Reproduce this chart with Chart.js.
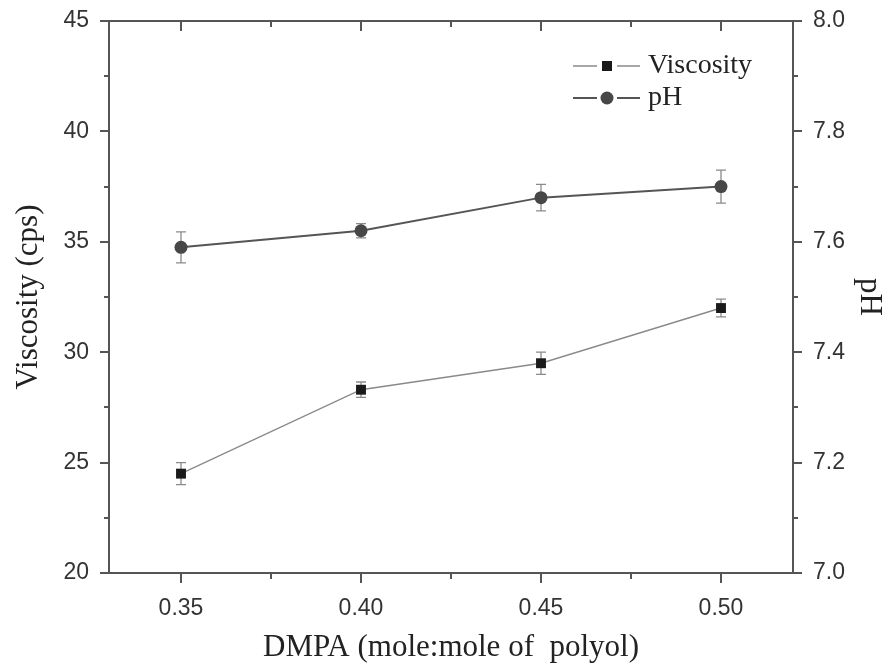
<!DOCTYPE html>
<html>
<head>
<meta charset="utf-8">
<script src="https://cdn.jsdelivr.net/npm/chart.js@4"></script>
<style>
  body { margin: 0; background: #fff; }
  .wrap { width: 894px; height: 669px; }
</style>
</head>
<body>
<div class="wrap"><canvas id="chart"></canvas></div>
<script>
const dmpa = [0.35, 0.40, 0.45, 0.50];
const viscosity = [24.5, 28.3, 29.5, 32.0];
const viscosityErr = [0.5, 0.35, 0.5, 0.4];
const ph = [7.59, 7.62, 7.68, 7.70];
const phErr = [0.028, 0.013, 0.024, 0.03];

const xTicks = [0.35, 0.40, 0.45, 0.50];
const xMinorTicks = [0.375, 0.425, 0.475];
const viscTicks = [20, 25, 30, 35, 40, 45];
const viscMinorTicks = [22.5, 27.5, 32.5, 37.5, 42.5];
const phTicks = [7.0, 7.2, 7.4, 7.6, 7.8, 8.0];
const phMinorTicks = [7.1, 7.3, 7.5, 7.7, 7.9];

const axisColor = "#555";
const tickFont = { family: "Liberation Sans", size: 23 };
const titleFont = { family: "Liberation Serif", size: 31 };

function setTicks(values) {
  return (scale) => {
    scale.ticks = values.map((v) => ({ value: v }));
  };
}

// keep the label overflow from pushing the plot area around
function fixWidth(w) {
  return (s) => {
    s.width = w;
    s.paddingTop = 0;
    s.paddingBottom = 0;
  };
}

// frame, tick marks and error bars, all placed through the chart scales
const axesAndErrors = {
  id: "axesAndErrors",
  beforeDatasetsDraw(chart) {
    const { ctx, chartArea: a, scales } = chart;
    ctx.save();
    ctx.strokeStyle = axisColor;
    ctx.lineWidth = 2;
    ctx.strokeRect(a.left, a.top, a.right - a.left, a.bottom - a.top);
    ctx.beginPath();
    const tickX = (vals, len) => {
      vals.forEach((v) => {
        const x = Math.round(scales.x.getPixelForValue(v));
        ctx.moveTo(x, a.bottom);
        ctx.lineTo(x, a.bottom + len);
        ctx.moveTo(x, a.top);
        ctx.lineTo(x, a.top + len);
      });
    };
    tickX(xTicks, 10);
    tickX(xMinorTicks, 6);
    const tickY = (scale, vals, len, left) => {
      vals.forEach((v) => {
        const y = Math.round(scale.getPixelForValue(v));
        const x0 = left ? a.left : a.right;
        ctx.moveTo(x0, y);
        ctx.lineTo(left ? x0 - len : x0 + len, y);
      });
    };
    tickY(scales.y, viscTicks, 9, true);
    tickY(scales.y, viscMinorTicks, 5, true);
    tickY(scales.y2, phTicks, 9, false);
    tickY(scales.y2, phMinorTicks, 5, false);
    ctx.stroke();

    const sets = [
      { vals: viscosity, errs: viscosityErr, y: scales.y },
      { vals: ph, errs: phErr, y: scales.y2 },
    ];
    ctx.strokeStyle = "#8a8a8a";
    ctx.lineWidth = 1.3;
    sets.forEach((s) => {
      s.vals.forEach((v, i) => {
        const x = scales.x.getPixelForValue(dmpa[i]);
        const top = s.y.getPixelForValue(v + s.errs[i]);
        const bot = s.y.getPixelForValue(v - s.errs[i]);
        ctx.beginPath();
        ctx.moveTo(x, top);
        ctx.lineTo(x, bot);
        ctx.moveTo(x - 5, top);
        ctx.lineTo(x + 5, top);
        ctx.moveTo(x - 5, bot);
        ctx.lineTo(x + 5, bot);
        ctx.stroke();
      });
    });
    ctx.restore();
  },
};

const legendBox = {
  id: "legendBox",
  afterDraw(chart) {
    const { ctx } = chart;
    const items = [
      { label: "Viscosity", y: 66, color: "#8a8a8a", marker: "rect" },
      { label: "pH", y: 98, color: "#555", marker: "circle" },
    ];
    ctx.save();
    items.forEach((it) => {
      ctx.strokeStyle = it.color;
      ctx.lineWidth = it.marker === "rect" ? 1.4 : 2;
      ctx.beginPath();
      ctx.moveTo(573, it.y);
      ctx.lineTo(597, it.y);
      ctx.moveTo(617, it.y);
      ctx.lineTo(640, it.y);
      ctx.stroke();
      if (it.marker === "rect") {
        ctx.fillStyle = "#1a1a1a";
        ctx.fillRect(602, it.y - 5, 10, 10);
      } else {
        ctx.fillStyle = "#474747";
        ctx.beginPath();
        ctx.arc(607, it.y, 6.5, 0, Math.PI * 2);
        ctx.fill();
      }
      ctx.fillStyle = "#222";
      ctx.font = "28px 'Liberation Serif'";
      ctx.textBaseline = "middle";
      ctx.fillText(it.label, 648, it.y);
    });
    ctx.restore();
  },
};

new Chart(document.getElementById("chart"), {
  type: "scatter",
  data: {
    datasets: [
      {
        label: "Viscosity",
        data: dmpa.map((x, i) => ({ x, y: viscosity[i] })),
        showLine: true,
        borderColor: "#8a8a8a",
        borderWidth: 1.4,
        pointStyle: "rect",
        pointRadius: 7,
        pointBackgroundColor: "#1a1a1a",
        pointBorderColor: "#1a1a1a",
        pointBorderWidth: 0,
        yAxisID: "y",
      },
      {
        label: "pH",
        data: dmpa.map((x, i) => ({ x, y: ph[i] })),
        showLine: true,
        borderColor: "#555",
        borderWidth: 2,
        pointStyle: "circle",
        pointRadius: 6.5,
        pointBackgroundColor: "#474747",
        pointBorderColor: "#474747",
        pointBorderWidth: 0,
        yAxisID: "y2",
      },
    ],
  },
  options: {
    responsive: true,
    maintainAspectRatio: false,
    animation: false,
    layout: { padding: { top: 21, left: 0, right: 0, bottom: 0 } },
    plugins: { legend: { display: false }, tooltip: { enabled: false } },
    scales: {
      x: {
        type: "linear",
        min: 0.33,
        max: 0.52,
        afterBuildTicks: setTicks(xTicks),
        afterFit: (s) => {
          s.height = 96;
          s.paddingLeft = 0;
          s.paddingRight = 0;
        },
        grid: { display: false, drawTicks: false },
        border: { display: false },
        ticks: {
          font: tickFont,
          color: "#333",
          padding: 22,
          callback: (v) => v.toFixed(2),
        },
        title: {
          display: true,
          text: "DMPA (mole:mole of  polyol)",
          font: titleFont,
          color: "#222",
          padding: { top: 0, bottom: 3 },
        },
      },
      y: {
        position: "left",
        min: 20,
        max: 45,
        afterBuildTicks: setTicks(viscTicks),
        afterFit: fixWidth(109),
        grid: { display: false, drawTicks: false },
        border: { display: false },
        ticks: { font: tickFont, color: "#333", padding: 20 },
        title: {
          display: true,
          text: "Viscosity (cps)",
          font: titleFont,
          color: "#222",
          padding: { top: 10, bottom: 0 },
        },
      },
      y2: {
        position: "right",
        min: 7,
        max: 8,
        afterBuildTicks: setTicks(phTicks),
        afterFit: fixWidth(101),
        grid: { display: false, drawTicks: false },
        border: { display: false },
        ticks: {
          font: tickFont,
          color: "#333",
          padding: 20,
          callback: (v) => v.toFixed(1),
        },
        title: {
          display: true,
          text: "pH",
          font: titleFont,
          color: "#222",
          padding: { top: 6, bottom: 0 },
        },
      },
    },
  },
  plugins: [axesAndErrors, legendBox],
});
</script>
</body>
</html>
